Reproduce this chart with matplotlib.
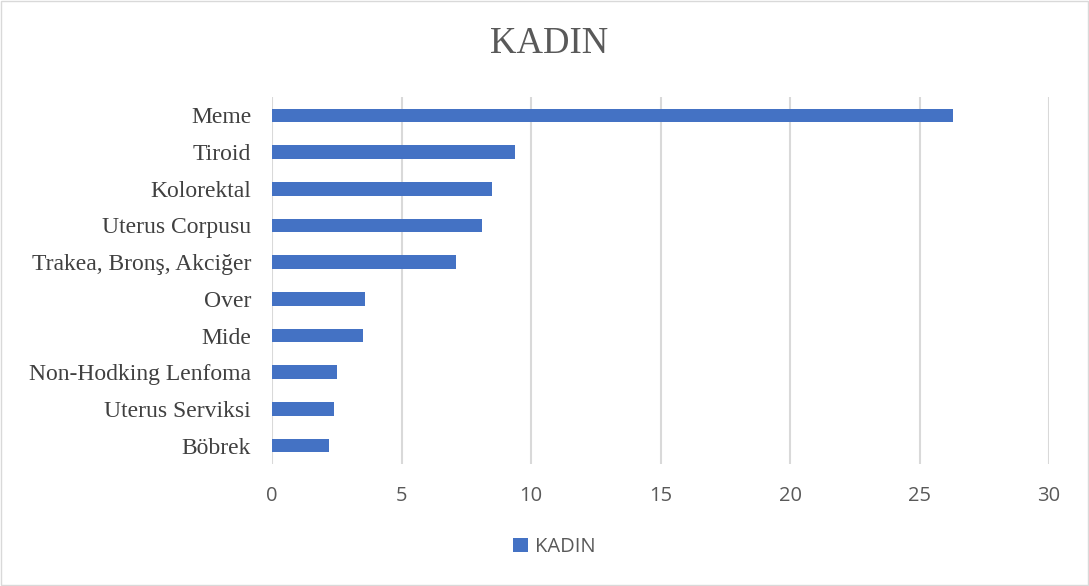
import matplotlib
matplotlib.use('Agg')
import matplotlib.pyplot as plt
from matplotlib.patches import Rectangle

# --- dados ---
categorias = ['Meme', 'Tiroid', 'Kolorektal', 'Uterus Corpusu', 'Trakea, Bronş, Akciğer',
              'Over', 'Mide', 'Non-Hodking Lenfoma', 'Uterus Serviksi', 'Böbrek']
valores = [26.3, 9.4, 8.5, 8.1, 7.1, 3.6, 3.5, 2.5, 2.4, 2.2]
ticks_x = [0, 5, 10, 15, 20, 25, 30]
titulo = 'KADIN'
serie = 'KADIN'

AZUL = '#4472C4'
CINZA_TXT = '#595959'
CINZA_GRID = '#d9d9d9'

fig = plt.figure(figsize=(10.89, 5.86), dpi=100)
ax = fig.add_axes([272 / 1089, 1 - 464 / 586, (1049 - 272) / 1089, (464 - 97) / 586])

pos = list(range(len(categorias)))[::-1]
ax.barh(pos, valores, height=0.37, color=AZUL, zorder=3, label=serie)

ax.set_xlim(0, 30)
ax.set_ylim(-0.5, len(categorias) - 0.5)
ax.set_xticks(ticks_x)
ax.set_xticklabels([str(t) for t in ticks_x], fontsize=14.5, color=CINZA_TXT, family='Open Sans')
ax.set_yticks(pos)
ax.set_yticklabels(categorias, fontsize=17, color='#404040', family='Liberation Serif')
ax.tick_params(length=0)
ax.tick_params(axis='y', pad=15)
ax.tick_params(axis='x', pad=16)

ax.grid(axis='x', color=CINZA_GRID, linewidth=1.5, zorder=0)
for s in ax.spines.values():
    s.set_visible(False)

fig.text(549 / 1089, 1 - 44 / 586, titulo, ha='center', va='center',
         fontsize=26.5, color=CINZA_TXT, family='Liberation Serif')

# legenda
fig.legend(loc='center', bbox_to_anchor=(554 / 1089, 1 - 547 / 586), frameon=False,
           prop={'family': 'Open Sans', 'size': 14.5}, labelcolor=CINZA_TXT,
           handlelength=0.75, handleheight=0.75, handletextpad=0.35)

# borda da figura
fig.patches.append(Rectangle((0.001, 0.001), 0.998, 0.997, transform=fig.transFigure,
                             fill=False, edgecolor='#d9d9d9', linewidth=1))

plt.savefig('out.png', dpi=100, facecolor='white')
plt.close(fig)
